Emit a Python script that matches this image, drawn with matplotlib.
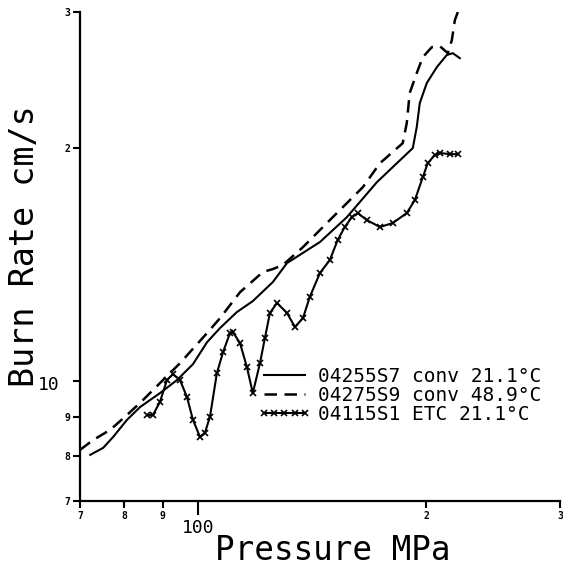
import matplotlib
matplotlib.use("Agg")
import matplotlib.pyplot as plt
import matplotlib.transforms as mtransforms

# 04255S7 conv 21.1 C  (solid)
conv21_p = [72.2, 75.1, 77.4, 80.7, 84.0, 89.2, 93.9, 98.6, 102.9, 107.0, 112.6, 118.2,
            125.6, 131.1, 144.9, 157.2, 172.2, 192.0, 194.3, 196.1, 200.3, 206.5, 212.8,
            216.7, 221.4]
conv21_r = [8.03, 8.20, 8.47, 8.91, 9.26, 9.65, 10.03, 10.52, 11.23, 11.71, 12.28, 12.69,
            13.43, 14.21, 15.13, 16.29, 18.08, 20.01, 21.30, 22.88, 24.28, 25.46, 26.39,
            26.54, 26.15]

# 04275S9 conv 48.9 C  (dashed)
conv49_p = [70.0, 72.8, 76.7, 80.7, 84.7, 90.0, 94.8, 102.9, 107.0, 113.7, 121.9, 125.6,
            129.5, 137.6, 149.3, 165.0, 173.8, 186.2, 188.5, 190.2, 194.3, 197.9, 203.4,
            208.4, 213.5, 216.1, 218.1, 220.1]
conv49_r = [8.15, 8.39, 8.65, 9.04, 9.45, 10.03, 10.55, 11.54, 12.06, 13.03, 13.84, 13.96,
            14.13, 14.90, 16.15, 17.81, 19.13, 20.30, 21.55, 23.57, 25.01, 26.23, 27.02,
            27.10, 26.54, 27.58, 29.28, 30.0]

# 04115S1 ETC 21.1 C  (line with x markers)
etc_p = [85.8, 87.3, 89.2, 91.1, 92.8, 94.8, 96.8, 98.6, 100.7, 102.2, 103.8, 106.0, 108.0,
         110.3, 111.3, 113.7, 116.1, 118.2, 120.8, 122.6, 124.5, 127.2, 131.1, 134.3, 137.6,
         140.5, 144.9, 149.3, 152.9, 156.2, 159.6, 162.5, 167.0, 173.8, 180.7, 188.5, 193.2,
         197.9, 200.9, 205.2, 208.4, 214.8, 220.1]
etc_r = [9.04, 9.04, 9.40, 10.03, 10.21, 10.03, 9.54, 8.91, 8.47, 8.57, 8.99, 10.24, 10.90,
         11.54, 11.57, 11.20, 10.43, 9.65, 10.55, 11.36, 12.25, 12.62, 12.25, 11.75, 12.06,
         12.85, 13.80, 14.34, 15.22, 15.82, 16.29, 16.49, 16.15, 15.82, 16.01, 16.49, 17.14,
         18.35, 19.13, 19.60, 19.72, 19.65, 19.65]

labels = ['04255S7 conv 21.1°C', '04275S9 conv 48.9°C', '04115S1 ETC 21.1°C']

x_ticks = [70, 80, 90, 100, 200, 300]
x_ticklabels = ['7', '8', '9', '', '2', '3']
y_ticks = [7, 8, 9, 10, 20, 30]
y_ticklabels = ['7', '8', '9', '', '2', '3']

mono = 'DejaVu Sans Mono'

fig = plt.figure(figsize=(5.63, 5.71), dpi=100)
ax = fig.add_axes([0.1421, 0.1226, 0.8526, 0.8564])

ax.plot(conv21_p, conv21_r, color='black', lw=1.5, label=labels[0])
ax.plot(conv49_p, conv49_r, color='black', lw=1.8, dashes=(5, 3), label=labels[1])
ax.plot(etc_p, etc_r, color='black', lw=1.5, marker='x', ms=4, mew=1.2, label=labels[2])

ax.set_xscale('log')
ax.set_yscale('log')
ax.set_xlim(70, 300)
ax.set_ylim(7, 30)
ax.minorticks_off()

ax.set_xticks(x_ticks)
ax.set_xticklabels(x_ticklabels)
ax.set_yticks(y_ticks)
ax.set_yticklabels(y_ticklabels)
ax.tick_params(direction='out', length=5, width=1.5, pad=2, labelsize=7)
for lbl in ax.get_xticklabels() + ax.get_yticklabels():
    lbl.set_fontfamily(mono)
    lbl.set_fontweight('bold')
# the 100 tick is drawn longer, as in the plotter output
ax.xaxis.get_major_ticks()[3].tick1line.set_markersize(10)

for side in ['top', 'right']:
    ax.spines[side].set_visible(False)
for side in ['left', 'bottom']:
    ax.spines[side].set_linewidth(1.6)

# decade labels
trans_x = mtransforms.blended_transform_factory(ax.transData, ax.transAxes)
ax.text(100, -0.056, '100', transform=trans_x, ha='center', va='center',
        fontsize=13, family=mono)
trans_y = mtransforms.blended_transform_factory(ax.transAxes, ax.transData)
ax.text(-0.042, 9.9, '10', transform=trans_y, ha='right', va='center',
        fontsize=13, family=mono)

fig.text(333 / 563, 1 - 550 / 571, 'Pressure MPa', ha='center', va='center',
         fontsize=23.5, family=mono)
fig.text(25 / 563, 1 - 246 / 571, 'Burn Rate cm/s', ha='center', va='center',
         rotation=90, fontsize=24, family=mono)

leg = ax.legend(loc='upper left', bbox_to_anchor=(0.371, 0.274), frameon=False,
                prop={'family': mono, 'size': 14}, handlelength=2.7, handletextpad=0.4,
                labelspacing=0.0, borderpad=0, borderaxespad=0, numpoints=5)

fig.savefig('out.png', dpi=100)
